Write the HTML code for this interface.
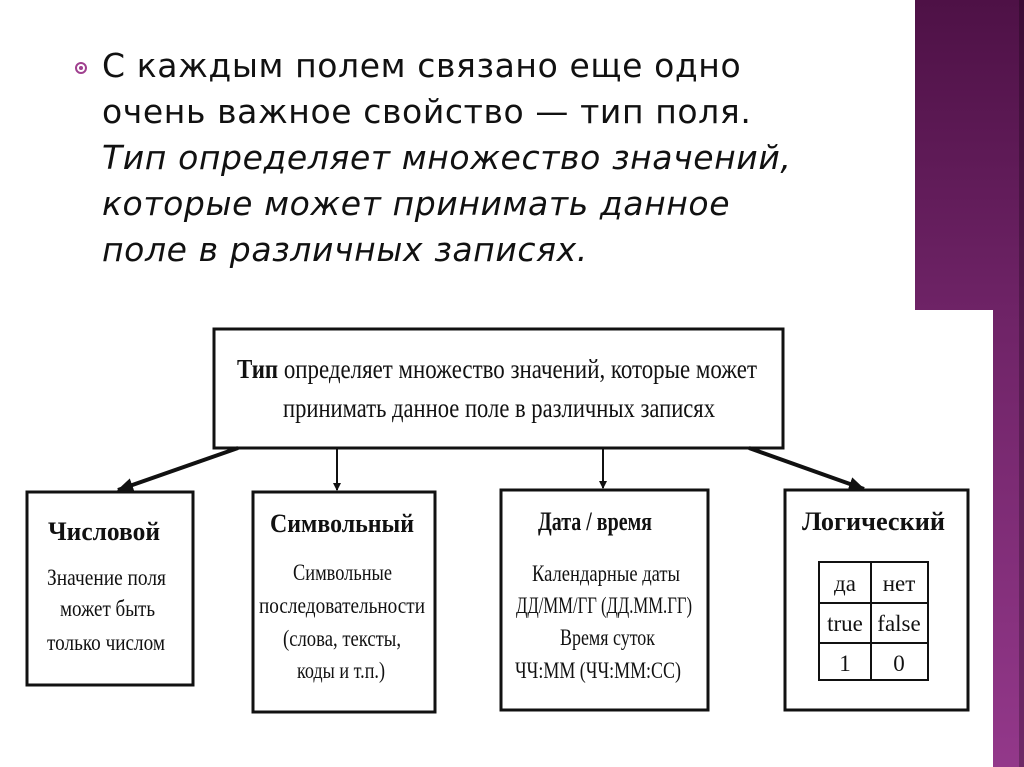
<!DOCTYPE html>
<html><head><meta charset="utf-8"><style>
html,body{margin:0;padding:0;background:#fff;}
body{width:1024px;height:767px;position:relative;overflow:hidden;}
.band1{position:absolute;left:915px;top:0;width:109px;height:310px;background:linear-gradient(#4e1146,#6e2366);}
.band2{position:absolute;left:993px;top:310px;width:31px;height:457px;background:linear-gradient(#6e2366,#93388a);}
.edge{position:absolute;left:1019px;top:0;width:5px;height:767px;background:rgba(0,0,0,0.25);}
.txt{position:absolute;left:102px;top:43px;font-family:"DejaVu Sans",sans-serif;font-size:33px;line-height:46px;color:#111;letter-spacing:0.6px;white-space:nowrap;}
.txt i{font-style:italic;}
.bul{position:absolute;left:75px;top:62px;width:12px;height:12px;border:2px solid #a0408f;border-radius:50%;box-sizing:border-box;}
.bul:after{content:"";position:absolute;left:2px;top:2px;width:4px;height:4px;border-radius:50%;background:#a0408f;}
svg{position:absolute;left:0;top:0;}
</style></head><body>
<div class="band1"></div><div class="band2"></div><div class="edge"></div>
<div class="bul"></div>
<div class="txt">С каждым полем связано еще одно<br>очень важное свойство — тип поля.<br><i>Тип определяет множество значений,<br>которые может принимать данное<br>поле в различных записях.</i></div>
<svg width="1024" height="767" font-family="Liberation Serif, serif" fill="#111">
<defs><marker id="a" markerWidth="8" markerHeight="8" refX="7" refY="4" orient="auto" markerUnits="userSpaceOnUse"><path d="M0,0 L8,4 L0,8 z" fill="#111"/></marker>
<marker id="b" markerWidth="16" markerHeight="14" refX="15" refY="7" orient="auto" markerUnits="userSpaceOnUse"><path d="M0,0 L16,7 L0,14 z" fill="#111"/></marker></defs>
<g fill="none" stroke="#111" stroke-width="3">
<rect x="214" y="329" width="569" height="119"/>
<rect x="27" y="492" width="166" height="193"/>
<rect x="253" y="492" width="182" height="220"/>
<rect x="501" y="490" width="207" height="220"/>
<rect x="785" y="490" width="183" height="220"/>
</g>
<g stroke="#111" stroke-width="4" fill="none">
<line x1="238" y1="448" x2="118" y2="490" marker-end="url(#b)"/>
<line x1="749" y1="448" x2="864" y2="489" marker-end="url(#b)"/>
</g>
<g stroke="#111" stroke-width="2" fill="none">
<line x1="337" y1="449" x2="337" y2="490" marker-end="url(#a)"/>
<line x1="603" y1="449" x2="603" y2="488" marker-end="url(#a)"/>
</g>
<g fill="none" stroke="#111" stroke-width="2">
<rect x="819" y="562" width="109" height="118"/>
<line x1="819" y1="603" x2="928" y2="603"/><line x1="819" y1="643" x2="928" y2="643"/>
<line x1="871" y1="562" x2="871" y2="680"/>
</g>
<g font-size="27">
<text x="237" y="378" textLength="520" lengthAdjust="spacingAndGlyphs"><tspan font-weight="bold">Тип</tspan> определяет множество значений, которые может</text>
<text x="283" y="417" textLength="432" lengthAdjust="spacingAndGlyphs">принимать данное поле в различных записях</text>
</g>
<g font-size="26" font-weight="bold">
<text x="48" y="540" textLength="112" lengthAdjust="spacingAndGlyphs">Числовой</text>
<text x="270" y="532" textLength="144" lengthAdjust="spacingAndGlyphs">Символьный</text>
<text x="538" y="530" textLength="114" lengthAdjust="spacingAndGlyphs">Дата / время</text>
<text x="802" y="530" textLength="143" lengthAdjust="spacingAndGlyphs">Логический</text>
</g>
<g font-size="23">
<text x="47" y="585" textLength="119" lengthAdjust="spacingAndGlyphs">Значение поля</text>
<text x="60" y="616" textLength="95" lengthAdjust="spacingAndGlyphs">может быть</text>
<text x="47" y="650" textLength="118" lengthAdjust="spacingAndGlyphs">только числом</text>
<text x="293" y="580" textLength="99" lengthAdjust="spacingAndGlyphs">Символьные</text>
<text x="259" y="613" textLength="166" lengthAdjust="spacingAndGlyphs">последовательности</text>
<text x="283" y="646" textLength="118" lengthAdjust="spacingAndGlyphs">(слова, тексты,</text>
<text x="297" y="678" textLength="88" lengthAdjust="spacingAndGlyphs">коды и т.п.)</text>
<text x="532" y="581" textLength="148" lengthAdjust="spacingAndGlyphs">Календарные даты</text>
<text x="516" y="613" textLength="176" lengthAdjust="spacingAndGlyphs">ДД/ММ/ГГ (ДД.ММ.ГГ)</text>
<text x="560" y="645" textLength="95" lengthAdjust="spacingAndGlyphs">Время суток</text>
<text x="515" y="678" textLength="166" lengthAdjust="spacingAndGlyphs">ЧЧ:ММ (ЧЧ:ММ:СС)</text>
<g text-anchor="middle">
<text x="845" y="591">да</text><text x="899" y="591">нет</text>
<text x="845" y="631">true</text><text x="899" y="631">false</text>
<text x="845" y="671">1</text><text x="899" y="671">0</text>
</g>
</g>
</svg>
</body></html>
